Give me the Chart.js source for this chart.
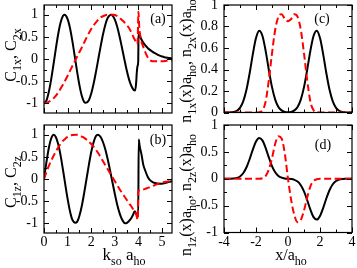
<!DOCTYPE html>
<html><head><meta charset="utf-8">
<script src="https://cdn.jsdelivr.net/npm/chart.js@4/dist/chart.umd.min.js"></script>
<style>
html,body{margin:0;padding:0;background:#fff;}
#wrap{position:relative;width:357px;height:268px;overflow:hidden;background:#fff;}
#wrap canvas{position:absolute;left:0;top:0;}
</style></head><body>
<div id="wrap">
<canvas id="ca" width="357" height="268"></canvas>
<canvas id="cb" width="357" height="268"></canvas>
<canvas id="cc" width="357" height="268"></canvas>
<canvas id="cd" width="357" height="268"></canvas>
</div>
<script>
// ---------- panel (a): C1x (black), C2x (red) vs k_so a_ho ----------
const kA1 = [0,0.1,0.2,0.3,0.4,0.5,0.6,0.7,0.8,0.87,1.0,1.1,1.2,1.3,1.4,1.5,1.6,1.7,1.77,1.9,2.0,2.1,2.2,2.3,2.4,2.5,2.6,2.7,2.83,2.9,3.0,3.1,3.2,3.3,3.4,3.5,3.6,3.7,3.8,3.86,3.9,3.93,3.96,3.99,4.0,4.02,4.1,4.2,4.3,4.4,4.5,4.6,4.7,4.8,4.9,5.0,5.1,5.2,5.3,5.42];
const c1x = [-1.0,-0.94,-0.75,-0.47,-0.13,0.23,0.56,0.82,0.97,1.0,0.90,0.70,0.41,0.07,-0.28,-0.59,-0.83,-0.97,-0.99,-0.93,-0.78,-0.56,-0.29,0.0,0.29,0.56,0.78,0.93,1.0,0.98,0.89,0.73,0.51,0.26,0.0,-0.25,-0.46,-0.61,-0.70,-0.71,-0.55,-0.30,-0.16,-0.05,0.45,0.57,0.47,0.37,0.30,0.245,0.20,0.16,0.13,0.10,0.075,0.055,0.04,0.03,0.02,0.015];
const kA2 = [0,0.2,0.4,0.6,0.8,1.0,1.2,1.4,1.6,1.8,2.0,2.2,2.4,2.6,2.8,2.95,3.1,3.2,3.3,3.4,3.5,3.6,3.7,3.8,3.9,3.96,4.0,4.03,4.1,4.2,4.3,4.4,4.5,4.6,4.8,5.0,5.2,5.42];
const c2x = [-1.0,-0.97,-0.89,-0.76,-0.58,-0.38,-0.16,0.05,0.26,0.48,0.68,0.83,0.94,0.99,1.0,1.0,0.97,0.93,0.88,0.83,0.77,0.70,0.60,0.48,0.38,0.33,1.07,0.75,0.45,0.28,0.14,0.03,-0.03,-0.05,-0.05,-0.05,-0.04,-0.03];

// ---------- panel (b): C1z (black), C2z (red) ----------
const kB1 = [0,0.1,0.2,0.3,0.41,0.5,0.6,0.7,0.8,0.9,1.0,1.1,1.2,1.32,1.4,1.5,1.6,1.7,1.8,1.9,2.0,2.1,2.2,2.28,2.4,2.5,2.6,2.7,2.8,2.9,3.0,3.1,3.2,3.3,3.4,3.48,3.6,3.7,3.77,3.84,3.9,3.96,3.99,4.01,4.05,4.13,4.2,4.3,4.4,4.5,4.6,4.7,4.8,4.9,5.0,5.1,5.2,5.3,5.42];
const c1z = [0,0.37,0.69,0.91,1.0,0.95,0.79,0.54,0.22,-0.12,-0.45,-0.73,-0.92,-0.99,-0.97,-0.83,-0.61,-0.32,0.0,0.32,0.61,0.83,0.97,1.0,0.95,0.83,0.66,0.44,0.19,-0.08,-0.34,-0.58,-0.77,-0.91,-0.99,-1.0,-0.95,-0.88,-0.81,-0.73,-0.78,-0.84,-0.85,0.89,0.75,0.55,0.33,0.17,0.04,-0.03,-0.07,-0.09,-0.10,-0.105,-0.105,-0.095,-0.08,-0.065,-0.05];
const kB2 = [0,0.1,0.2,0.3,0.4,0.5,0.6,0.7,0.8,0.9,1.0,1.1,1.2,1.39,1.5,1.6,1.7,1.8,1.9,2.0,2.1,2.2,2.3,2.4,2.5,2.6,2.7,2.8,2.9,3.0,3.1,3.2,3.3,3.4,3.5,3.6,3.7,3.8,3.9,3.97,3.99,4.1,4.2,4.3,4.4,4.5,4.6,4.7,4.8,4.9,5.0,5.1,5.2,5.3,5.42];
const c2z = [0,0.15,0.29,0.41,0.52,0.62,0.71,0.79,0.86,0.91,0.95,0.98,0.995,1.0,0.99,0.96,0.93,0.89,0.84,0.79,0.73,0.66,0.58,0.49,0.40,0.31,0.22,0.13,0.04,-0.05,-0.14,-0.23,-0.31,-0.39,-0.47,-0.55,-0.62,-0.71,-0.80,-0.92,-0.26,-0.26,-0.24,-0.22,-0.20,-0.18,-0.16,-0.135,-0.115,-0.095,-0.08,-0.07,-0.06,-0.05,-0.04];

// ---------- panels (c), (d): densities vs x/a_ho ----------
const xs = [-4,-3.8,-3.6,-3.4,-3.2,-3,-2.8,-2.6,-2.4,-2.2,-2,-1.8,-1.6,-1.4,-1.2,-1,-0.8,-0.6,-0.4,-0.2,0,0.2,0.4,0.6,0.8,1,1.2,1.4,1.6,1.8,2,2.2,2.4,2.6,2.8,3,3.2,3.4,3.6,3.8,4];
const n1x = [0,0,0.001,0.005,0.016,0.043,0.103,0.209,0.363,0.541,0.692,0.76,0.714,0.576,0.398,0.236,0.120,0.052,0.020,0.006,0.002,0.006,0.020,0.052,0.120,0.236,0.398,0.576,0.714,0.76,0.692,0.541,0.363,0.209,0.103,0.043,0.016,0.005,0.001,0,0];
const n2x = [0,0,0,0,0,0,0,0,0,0,0,0.003,0.02,0.10,0.30,0.55,0.77,0.89,0.915,0.87,0.85,0.87,0.915,0.89,0.77,0.55,0.30,0.10,0.02,0.003,0,0,0,0,0,0,0,0,0,0,0];
const n1z = [0,0,0.001,0.005,0.016,0.043,0.103,0.209,0.363,0.541,0.692,0.76,0.714,0.576,0.398,0.236,0.120,0.052,0.020,0.006,0,-0.006,-0.020,-0.052,-0.120,-0.236,-0.398,-0.576,-0.714,-0.76,-0.692,-0.541,-0.363,-0.209,-0.103,-0.043,-0.016,-0.005,-0.001,0,0];
const n2z = [0,0,0,0,0,0,0,0,0,0,0,0,0.01,0.05,0.17,0.38,0.65,0.79,0.75,0.47,0.0,-0.40,-0.68,-0.81,-0.77,-0.59,-0.35,-0.14,-0.04,-0.01,0,0,0,0,0,0,0,0,0,0,0];

// ---------- ticks ----------
const kTicks = [0,1,2,3,4,5];
const kMinor = [0.5,1.5,2.5,3.5,4.5];
const cTicks = [-1,-0.5,0,0.5,1];
const cMinor = [-0.75,-0.25,0.25,0.75];
const xTicks = [-4,-2,0,2,4];
const xMinor = [-3,-1,1,3];
const nxTicks = [0,0.2,0.4,0.6,0.8,1];
const nxMinor = [0.1,0.3,0.5,0.7,0.9];
const nzTicks = [-1,-0.5,0,0.5,1];
const nzMinor = [-0.75,-0.25,0.25,0.75];

const SERIF = "'Liberation Serif','Times New Roman',serif";
const W = 357, H = 268, YW = 44;

function pts(xa, ya){ return xa.map((x,i)=>({x:x, y:ya[i]})); }

function drawRich(ctx, parts, px, py, rot, size){
  const sub = Math.round(size*0.72);
  ctx.save();
  ctx.translate(px, py);
  if (rot) ctx.rotate(-Math.PI/2);
  ctx.fillStyle = '#000';
  ctx.textAlign = 'left';
  ctx.textBaseline = 'alphabetic';
  let total = 0; const ws = [];
  parts.forEach(p=>{ ctx.font = (p[1]?sub:size)+'px '+SERIF; const w = ctx.measureText(p[0]).width; ws.push(w); total += w; });
  let x = -total/2;
  parts.forEach((p,i)=>{ ctx.font = (p[1]?sub:size)+'px '+SERIF; ctx.fillText(p[0], x, p[1]? size*0.3 : 0); x += ws[i]; });
  ctx.restore();
}

function makePanel(id, P){
  const deco = {
    id: 'deco',
    afterDatasetsDraw(chart){
      const ctx = chart.ctx, a = chart.chartArea;
      const xs_ = chart.scales.x, ys_ = chart.scales.y;
      ctx.save();
      ctx.strokeStyle = '#000';
      ctx.lineWidth = 1.2;
      ctx.strokeRect(a.left, a.top, a.right-a.left, a.bottom-a.top);
      ctx.lineWidth = 1;
      const tk = (vals, len) => {
        vals.forEach(v=>{
          const px = Math.round(xs_.getPixelForValue(v))+0.5;
          ctx.beginPath();
          ctx.moveTo(px, a.bottom); ctx.lineTo(px, a.bottom-len);
          ctx.moveTo(px, a.top); ctx.lineTo(px, a.top+len);
          ctx.stroke();
        });
      };
      const tky = (vals, len) => {
        vals.forEach(v=>{
          const py = Math.round(ys_.getPixelForValue(v))+0.5;
          ctx.beginPath();
          ctx.moveTo(a.left, py); ctx.lineTo(a.left+len, py);
          ctx.moveTo(a.right, py); ctx.lineTo(a.right-len, py);
          ctx.stroke();
        });
      };
      tk(P.xT, 5); tk(P.xM, 3); tky(P.yT, 5); tky(P.yM, 3);
      ctx.fillStyle = '#000';
      ctx.font = '14px '+SERIF;
      ctx.textAlign = 'center'; ctx.textBaseline = 'middle';
      ctx.fillText(P.label, P.labelPos[0], P.labelPos[1]);
      ctx.restore();
      drawRich(ctx, P.yTitle, P.yTitlePos[0], P.yTitlePos[1], true, 16);
      if (P.xTitle) drawRich(ctx, P.xTitle, P.xTitlePos[0], P.xTitlePos[1], false, P.xTitleSize);
    }
  };
  const tickFont = {family: SERIF, size: 14};
  const xH = H - P.area[3];
  return new Chart(document.getElementById(id), {
    type: 'line',
    data: { datasets: [
      { data: P.red, borderColor: '#ff0000', borderWidth: 2, borderDash: [7,3.5], pointRadius: 0, fill: false, cubicInterpolationMode: 'monotone' },
      { data: P.black, borderColor: '#000000', borderWidth: 2, pointRadius: 0, fill: false, cubicInterpolationMode: 'monotone' }
    ]},
    options: {
      responsive: false, animation: false, devicePixelRatio: 1,
      events: [],
      layout: { padding: { left: P.area[0]-YW, top: P.area[1], right: W-P.area[2], bottom: 0 } },
      plugins: { legend: {display:false}, tooltip: {enabled:false}, title: {display:false} },
      scales: {
        x: {
          type: 'linear', min: P.xMin, max: P.xMax,
          grid: {display:false, drawTicks:false}, border: {display:false},
          ticks: {display: P.showX, font: tickFont, color: '#000', padding: 1, maxRotation: 0, autoSkip: false, callback: v => String(v)},
          afterBuildTicks: s => { s.ticks = P.xT.map(v=>({value:v})); },
          afterFit: s => { s.height = xH; s.paddingLeft = 0; s.paddingRight = 0; s.paddingTop = 0; s.paddingBottom = 0; }
        },
        y: {
          type: 'linear', min: P.yMin, max: P.yMax,
          grid: {display:false, drawTicks:false}, border: {display:false},
          ticks: {display: true, font: tickFont, color: '#000', padding: 6, autoSkip: false, callback: v => String(v)},
          afterBuildTicks: s => { s.ticks = P.yT.map(v=>({value:v})); },
          afterFit: s => { s.width = YW; s.paddingLeft = 0; s.paddingRight = 0; s.paddingTop = 0; s.paddingBottom = 0; }
        }
      }
    },
    plugins: [deco]
  });
}

makePanel('ca', {
  area: [44, 5, 172, 113], xMin: 0, xMax: 5.42, yMin: -1.22, yMax: 1.22,
  xT: kTicks, xM: kMinor, yT: cTicks, yM: cMinor, showX: false,
  black: pts(kA1, c1x), red: pts(kA2, c2x),
  label: '(a)', labelPos: [158, 19],
  yTitle: [['C',0],['1x',1],[', C',0],['2x',1]], yTitlePos: [16, 55]
});
makePanel('cb', {
  area: [44, 125, 172, 233], xMin: 0, xMax: 5.42, yMin: -1.22, yMax: 1.22,
  xT: kTicks, xM: kMinor, yT: cTicks, yM: cMinor, showX: true,
  black: pts(kB1, c1z), red: pts(kB2, c2z),
  label: '(b)', labelPos: [158, 140],
  yTitle: [['C',0],['1z',1],[', C',0],['2z',1]], yTitlePos: [16, 182],
  xTitle: [['k',0],['so',1],[' a',0],['ho',1]], xTitlePos: [124, 260], xTitleSize: 17
});
makePanel('cc', {
  area: [224, 5, 352, 112.5], xMin: -4, xMax: 4, yMin: 0, yMax: 1,
  xT: xTicks, xM: xMinor, yT: nxTicks, yM: nxMinor, showX: false,
  black: pts(xs, n1x), red: pts(xs, n2x),
  label: '(c)', labelPos: [322, 19],
  yTitle: [['n',0],['1x',1],['(x)a',0],['ho',1],[', n',0],['2x',1],['(x)a',0],['ho',1]], yTitlePos: [191, 61]
});
makePanel('cd', {
  area: [224, 125, 352, 232.5], xMin: -4, xMax: 4, yMin: -1, yMax: 1,
  xT: xTicks, xM: xMinor, yT: nzTicks, yM: nzMinor, showX: true,
  black: pts(xs, n1z), red: pts(xs, n2z),
  label: '(d)', labelPos: [323, 145],
  yTitle: [['n',0],['1z',1],['(x)a',0],['ho',1],[', n',0],['2z',1],['(x)a',0],['ho',1]], yTitlePos: [191, 195],
  xTitle: [['x/a',0],['ho',1]], xTitlePos: [291, 260], xTitleSize: 16
});
</script>
</body></html>
